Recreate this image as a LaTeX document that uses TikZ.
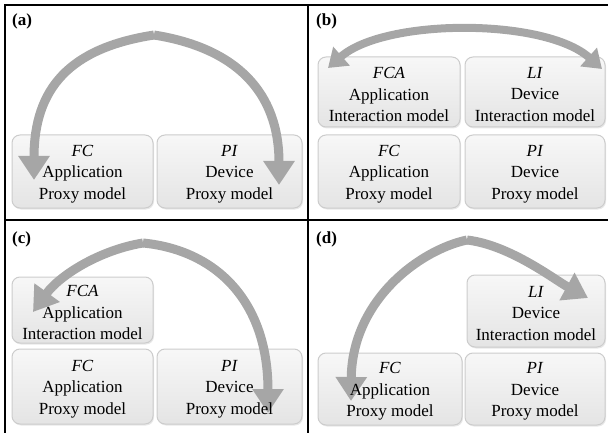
\documentclass[tikz,border=0pt]{standalone}
\usepackage{fontspec}
\setmainfont{Liberation Serif}
\usetikzlibrary{arrows.meta,shadows}
\definecolor{arrowgray}{HTML}{A6A6A6}
\definecolor{boxedge}{HTML}{CCCCCC}
\tikzset{
  model/.style={draw=boxedge, line width=1pt, rounded corners=8pt,
    top color=gray!6, bottom color=gray!21, inner sep=0pt,
    drop shadow={opacity=0.18, shadow xshift=1pt, shadow yshift=-1.5pt}},
  modeltext/.style={align=center, font=\fontsize{17}{21.5}\selectfont, inner sep=0pt},
  frame/.style={line width=1.6pt, black},
  tag/.style={font=\fontsize{17}{20}\selectfont\bfseries, anchor=base west, inner sep=0pt},
  flow/.style={draw=arrowgray, line width=9pt,
    -{Triangle[length=24pt,width=30pt]}, arrowgray},
  flowb/.style={draw=arrowgray, line width=8pt,
    {Triangle[length=18pt,width=24pt]}-{Triangle[length=18pt,width=24pt]}, arrowgray}
}
% rounded box from corner (x1,y1) to corner (x2,y2); y grows downwards
\newcommand{\modelbox}[5]{%
  \node[model, minimum width=#4-#2, minimum height=#5-#3] (#1)
    at ({(#2+#4)/2},{(#3+#5)/2}) {};}
% three-line caption of a box, placed after the arrows so it stays on top
\newcommand{\modeltext}[2]{%
  \node[modeltext] (#1-text) at ([yshift=-2.5pt]#1.center) {#2};}
\begin{document}
\begin{tikzpicture}[x=1pt,y=-1pt]
\useasboundingbox (0,0) rectangle (608,433);

% panel frame
\coordinate (tl) at (5,5);
\coordinate (tr) at (608,5);
\coordinate (bl) at (5,433);
\coordinate (mt) at (308,5);
\coordinate (mb) at (308,433);
\coordinate (ml) at (5,220);
\coordinate (mr) at (608,220);
\draw[frame] (bl) -- (tl) -- (tr);
\draw[frame] (mt) -- (mb);
\draw[frame] (ml) -- (mr);

% panel tags
\node[tag] (la) at (12,26) {(a)};
\node[tag] (lb) at (316,26) {(b)};
\node[tag] (lc) at (12,243) {(c)};
\node[tag] (ld) at (316,243) {(d)};

% boxes
\modelbox{aFC}{12}{135}{153}{208}
\modelbox{aPI}{157}{135}{302}{208}
\modelbox{bFCA}{318}{57}{460}{127}
\modelbox{bLI}{465}{57}{605}{127}
\modelbox{bFC}{318}{135}{460}{208}
\modelbox{bPI}{465}{135}{605}{208}
\modelbox{cFCA}{12}{277}{153}{343}
\modelbox{cFC}{12}{349}{153}{424}
\modelbox{cPI}{157}{349}{302}{424}
\modelbox{dLI}{467}{275}{605}{347}
\modelbox{dFC}{318}{353}{462}{425}
\modelbox{dPI}{465}{353}{605}{425}

% (a) arrows
\coordinate (apeak) at (154,35);
\coordinate (aL) at (34,180);
\coordinate (aR) at (279,185);
\draw[flow] (apeak) .. controls (70,48) and (34,88) .. (aL);
\draw[flow] (apeak) .. controls (236,48) and (279,92) .. (aR);

% (b) arrow
\coordinate (bL) at (328,68);
\coordinate (bR) at (602,69);
\draw[flowb] (bL) .. controls (385,18) and (545,18) .. (bR);

% (c) arrows
\coordinate (cpeak) at (143,243);
\coordinate (cL) at (33,312);
\coordinate (cR) at (268,413);
\draw[flow] (cpeak) .. controls (100,250) and (60,275) .. (cL);
\draw[flow] (cpeak) .. controls (215,250) and (268,300) .. (cR);

% (d) arrows
\coordinate (dpeak) at (467,240);
\coordinate (dL) at (351,401);
\coordinate (dR) at (588,298);
\draw[flow] (dpeak) .. controls (420,250) and (352,300) .. (dL);
\draw[flow] (dpeak) .. controls (510,245) and (555,280) .. (dR);

% captions
\modeltext{aFC}{\textit{FC}\\Application\\Proxy model}
\modeltext{aPI}{\textit{PI}\\Device\\Proxy model}
\modeltext{bFCA}{\textit{FCA}\\Application\\Interaction model}
\modeltext{bLI}{\textit{LI}\\Device\\Interaction model}
\modeltext{bFC}{\textit{FC}\\Application\\Proxy model}
\modeltext{bPI}{\textit{PI}\\Device\\Proxy model}
\modeltext{cFCA}{\textit{FCA}\\Application\\Interaction model}
\modeltext{cFC}{\textit{FC}\\Application\\Proxy model}
\modeltext{cPI}{\textit{PI}\\Device\\Proxy model}
\modeltext{dLI}{\textit{LI}\\Device\\Interaction model}
\modeltext{dFC}{\textit{FC}\\Application\\Proxy model}
\modeltext{dPI}{\textit{PI}\\Device\\Proxy model}
\end{tikzpicture}
\end{document}
